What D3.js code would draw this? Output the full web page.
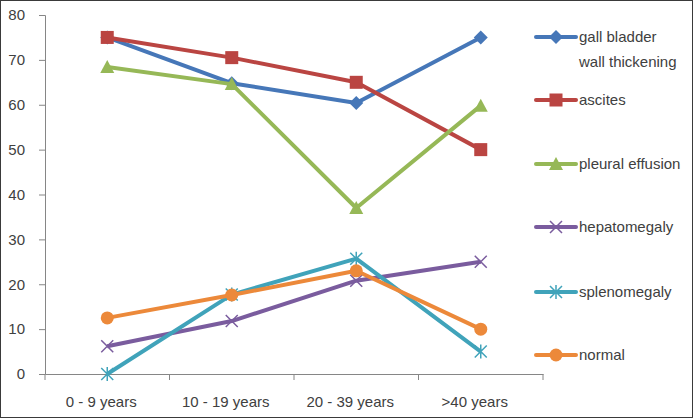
<!DOCTYPE html>
<html><head><meta charset="utf-8">
<script src="https://cdn.jsdelivr.net/npm/d3@7"></script>
<style>body{margin:0;background:#fff}svg{display:block}</style>
</head><body>
<script>
const categories = ["0 - 9 years", "10 - 19 years", "20 - 39 years", ">40 years"];
const gallBladder = [75, 64.8, 60.4, 75];
const ascites = [75, 70.5, 65, 50];
const pleural = [68.4, 64.6, 37, 59.8];
const hepatomegaly = [6.2, 11.8, 20.8, 25];
const splenomegaly = [0, 17.7, 25.7, 5];
const normal = [12.5, 17.6, 23, 10];
const yTicks = [0, 10, 20, 30, 40, 50, 60, 70, 80];

const series = [
  {name: ["gall bladder", "wall thickening"], values: gallBladder, color: "#4677B8", marker: "diamond", ly: 37},
  {name: ["ascites"], values: ascites, color: "#BA4542", marker: "square", ly: 100},
  {name: ["pleural effusion"], values: pleural, color: "#96B857", marker: "triangle", ly: 164},
  {name: ["hepatomegaly"], values: hepatomegaly, color: "#7A5C9E", marker: "x", ly: 227},
  {name: ["splenomegaly"], values: splenomegaly, color: "#40A3BA", marker: "star", ly: 292},
  {name: ["normal"], values: normal, color: "#EC893A", marker: "circle", ly: 355}
];

const W = 693, H = 419;
const svg = d3.select("body").append("svg").attr("width", W).attr("height", H);
svg.append("rect").attr("x", 0.5).attr("y", 0.5).attr("width", W - 1).attr("height", H - 2)
  .attr("fill", "#fff").attr("stroke", "#3a3a3a").attr("stroke-width", 1);

const x = d3.scaleBand().domain(categories).range([45, 543]);
const y = d3.scaleLinear().domain([0, 80]).range([374, 15]);
const font = "Liberation Sans, Arial, sans-serif";

// y axis
const ya = svg.append("g").attr("transform", "translate(45,0)")
  .call(d3.axisLeft(y).tickValues(yTicks).tickSize(6).tickPadding(14));
ya.select(".domain").attr("stroke", "#868686");
ya.selectAll(".tick line").attr("stroke", "#868686");
ya.selectAll("text").attr("font-family", font).attr("font-size", 15).attr("fill", "#404040");

// x axis
const xa = svg.append("g").attr("transform", "translate(0,374)")
  .call(d3.axisBottom(x).tickSize(0).tickPadding(22));
xa.select(".domain").attr("stroke", "#868686");
xa.selectAll("text").attr("font-family", font).attr("font-size", 15).attr("fill", "#404040")
  .attr("dx", -6);
const edges = categories.map(c => x(c)).concat([x(categories[categories.length - 1]) + x.bandwidth()]);
svg.append("g").selectAll("line").data(edges).join("line")
  .attr("x1", d => d).attr("x2", d => d).attr("y1", 374).attr("y2", 380)
  .attr("stroke", "#868686");

const cx = c => x(c) + x.bandwidth() / 2;

function drawMarker(g, type, color, px, py) {
  if (type === "diamond") {
    g.append("path").attr("d", `M${px},${py-7}L${px+7},${py}L${px},${py+7}L${px-7},${py}Z`).attr("fill", color);
  } else if (type === "square") {
    g.append("rect").attr("x", px - 6.5).attr("y", py - 6.5).attr("width", 13).attr("height", 13).attr("fill", color);
  } else if (type === "triangle") {
    g.append("path").attr("d", `M${px},${py-7}L${px+7},${py+6}L${px-7},${py+6}Z`).attr("fill", color);
  } else if (type === "circle") {
    g.append("circle").attr("cx", px).attr("cy", py).attr("r", 6.5).attr("fill", color);
  } else if (type === "x") {
    g.append("path").attr("d", `M${px-6},${py-6}L${px+6},${py+6}M${px-6},${py+6}L${px+6},${py-6}`)
      .attr("stroke", color).attr("stroke-width", 1.5);
  } else if (type === "star") {
    g.append("path").attr("d", `M${px-6},${py-6}L${px+6},${py+6}M${px-6},${py+6}L${px+6},${py-6}M${px},${py-7}L${px},${py+7}`)
      .attr("stroke", color).attr("stroke-width", 1.5);
  }
}

const line = d3.line().x((d, i) => cx(categories[i])).y(d => y(d));
series.forEach(s => {
  const g = svg.append("g");
  g.append("path").attr("d", line(s.values)).attr("fill", "none")
    .attr("stroke", s.color).attr("stroke-width", 4).attr("stroke-linejoin", "round");
  s.values.forEach((v, i) => drawMarker(g, s.marker, s.color, cx(categories[i]), y(v)));
  // legend
  const lg = svg.append("g");
  lg.append("line").attr("x1", 536).attr("x2", 576).attr("y1", s.ly).attr("y2", s.ly)
    .attr("stroke", s.color).attr("stroke-width", 4).attr("stroke-linecap", "round");
  drawMarker(lg, s.marker, s.color, 556, s.ly);
  s.name.forEach((t, k) => {
    lg.append("text").attr("x", 579).attr("y", s.ly + 5 + k * 25).text(t)
      .attr("font-family", font).attr("font-size", 15).attr("fill", "#404040");
  });
});
</script>
</body></html>
